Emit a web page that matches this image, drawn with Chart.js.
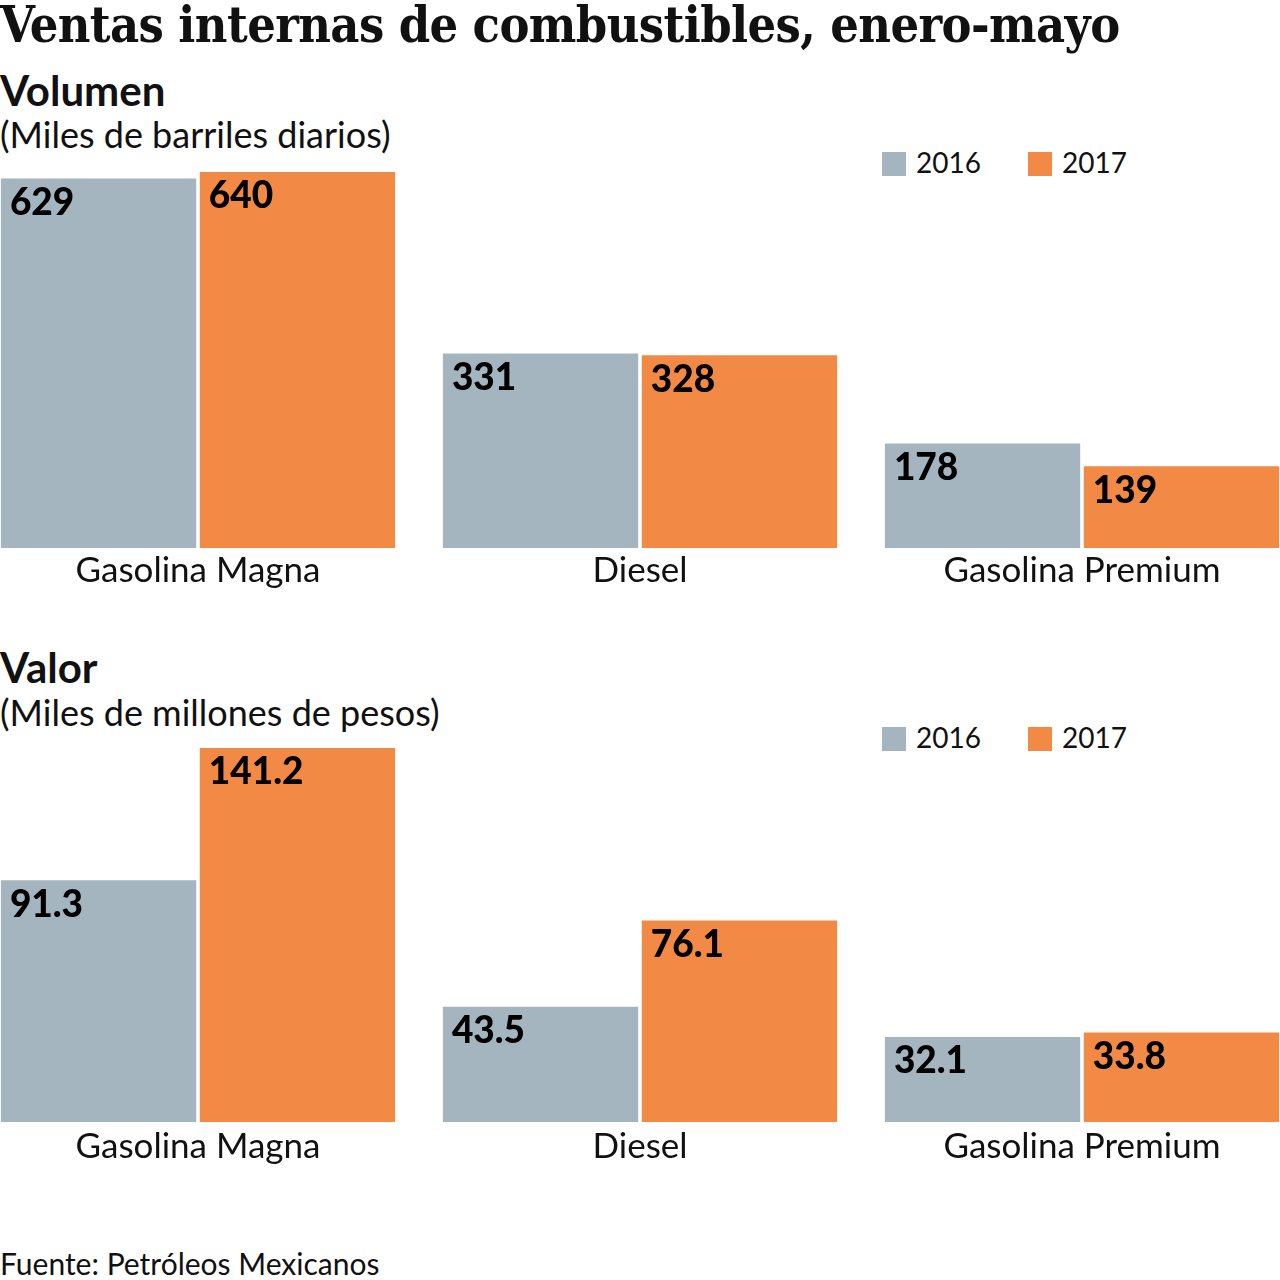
<!DOCTYPE html>
<html>
<head>
<meta charset="utf-8">
<script src="https://cdn.jsdelivr.net/npm/chart.js@4"></script>
<style>
html,body{margin:0;padding:0;background:#fff;}
body{width:1280px;height:1280px;position:relative;overflow:hidden;font-family:Lato,sans-serif;color:#111;}
.t{position:absolute;left:0;white-space:nowrap;line-height:1;}
#title{top:0px;font-family:"DejaVu Serif Condensed","DejaVu Serif",serif;font-weight:bold;font-size:50px;letter-spacing:-0.6px;}
.sub{font-weight:bold;font-size:42px;}
.unit{font-size:36px;}
.leg{position:absolute;font-size:28px;line-height:1;}
.leg span{display:inline-block;width:24px;height:24px;vertical-align:-3px;margin-right:10px;}
.wrap{position:absolute;left:-23px;width:1326px;}
#foot{top:1248px;font-size:30px;}
</style>
</head>
<body>
<div class="t" id="title">Ventas internas de combustibles, enero-mayo</div>
<div class="t sub" style="top:69px">Volumen</div>
<div class="t unit" style="top:116px">(Miles de barriles diarios)</div>
<div class="leg" style="left:882px;top:148px"><span style="background:#a5b5bf"></span>2016</div>
<div class="leg" style="left:1028px;top:148px"><span style="background:#f28944"></span>2017</div>

<div class="wrap" style="top:172px;height:436px"><canvas id="volChart"></canvas></div>

<div class="t sub" style="top:646px">Valor</div>
<div class="t unit" style="top:694px">(Miles de millones de pesos)</div>
<div class="leg" style="left:882px;top:723px"><span style="background:#a5b5bf"></span>2016</div>
<div class="leg" style="left:1028px;top:723px"><span style="background:#f28944"></span>2017</div>

<div class="wrap" style="top:748px;height:434px"><canvas id="valChart"></canvas></div>

<div class="t" id="foot">Fuente: Petróleos Mexicanos</div>

<script>
// datos
const fuels = ["Gasolina Magna","Diesel","Gasolina Premium"];
const years = ["2016","2017"];
const vol2016 = [629,331,178];
const vol2017 = [640,328,139];
const val2016 = [91.3,43.5,32.1];
const val2017 = [141.2,76.1,33.8];
const colors = ["#a5b5bf","#f28944"];

const valueLabels = {
  id:'valueLabels',
  afterDatasetsDraw(chart){
    const ctx = chart.ctx;
    ctx.save();
    ctx.font = '900 37px Lato';
    ctx.fillStyle = '#000';
    ctx.textBaseline = 'top';
    ctx.textAlign = 'left';
    chart.data.datasets.forEach((ds,i)=>{
      chart.getDatasetMeta(i).data.forEach((bar,j)=>{
        ctx.fillText(String(ds.data[j]), bar.x - bar.width/2 + 9, bar.y + 6);
      });
    });
    ctx.restore();
  }
};

function makeChart(id, a, b, max, pad){
  return new Chart(document.getElementById(id),{
    type:'bar',
    data:{
      labels:fuels,
      datasets:[
        {label:years[0],data:a,backgroundColor:colors[0]},
        {label:years[1],data:b,backgroundColor:colors[1]}
      ]
    },
    options:{
      responsive:true,
      maintainAspectRatio:false,
      animation:false,
      categoryPercentage:0.9,
      barPercentage:0.982,
      layout:{padding:0},
      plugins:{legend:{display:false},tooltip:{enabled:false}},
      scales:{
        x:{
          grid:{display:false,drawTicks:false},
          border:{display:false},
          ticks:{color:'#111',font:{family:'Lato',size:35},padding:pad,maxRotation:0},
          afterFit(scale){ scale.height = 60; }
        },
        y:{display:false,min:0,max:max}
      }
    },
    plugins:[valueLabels]
  });
}

makeChart('volChart', vol2016, vol2017, 640, 2);
makeChart('valChart', val2016, val2017, 141.2, 4);
</script>
</body>
</html>
